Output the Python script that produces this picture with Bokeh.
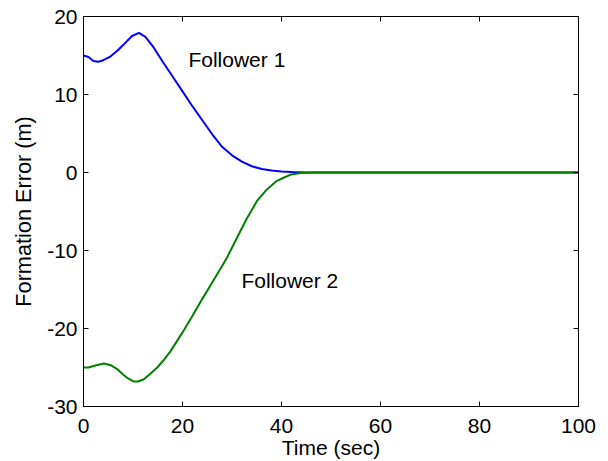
from bokeh.plotting import figure
from bokeh.models import LinearAxis, Range1d, Label, FixedTicker
from bokeh.embed import file_html
from bokeh.resources import INLINE

# Follower 1 formation error
t1 = [0, 1, 2, 3, 4, 5.5, 7, 8.1, 9.8, 11.2, 12.5, 14.2, 16, 18, 20, 22, 24, 26, 28, 30,
      32, 34, 36, 38, 40, 42, 45, 50, 100]
e1 = [15.0, 14.8, 14.3, 14.2, 14.4, 14.9, 15.7, 16.4, 17.5, 17.9, 17.4, 16.0, 14.2, 12.3, 10.4,
      8.5, 6.7, 4.9, 3.3, 2.2, 1.4, 0.8, 0.45, 0.25, 0.12, 0.05, 0.0, 0.0, 0.0]

# Follower 2 formation error
t2 = [0, 1, 2, 4.1, 5.5, 6.8, 8, 9, 10.2, 11, 12.2, 13.5, 14.9, 16, 17.6, 20, 22, 24, 26, 28,
      29, 31.7, 33, 35.1, 37, 39, 40.4, 42, 43.8, 46, 50, 100]
e2 = [-25.0, -25.0, -24.8, -24.5, -24.7, -25.2, -25.9, -26.4, -26.8, -26.8, -26.5, -25.8, -25.0,
      -24.2, -22.9, -20.5, -18.4, -16.2, -14.1, -12.0, -10.9, -7.5, -5.9, -3.6, -2.2, -1.1,
      -0.67, -0.25, -0.05, 0.0, 0.0, 0.0]

x_ticks = [0, 20, 40, 60, 80, 100]
y_ticks = [-30, -20, -10, 0, 10, 20]
y_tick_labels = ["-30", "-20", "-10", "0", "10", "20"]

FONT = "Liberation Sans"
FS = "21px"

p = figure(width=600, height=453, output_backend="svg", toolbar_location=None,
           x_range=Range1d(0, 100), y_range=Range1d(-30, 20),
           min_border_left=83, min_border_right=22, min_border_top=16, min_border_bottom=47)
p.frame_width = 495
p.frame_height = 390

p.line(t1, e1, line_color="#0000FF", line_width=2)
p.line(t2, e2, line_color="#008000", line_width=2)

p.xgrid.visible = False
p.ygrid.visible = False
p.outline_line_color = "black"
p.outline_line_width = 1

for ax, ticks in ((p.xaxis[0], x_ticks), (p.yaxis[0], y_ticks)):
    ax.ticker = FixedTicker(ticks=ticks)
    ax.major_tick_in = 5
    ax.major_tick_out = 0
    ax.minor_tick_line_color = None
    ax.axis_line_color = "black"
    ax.major_tick_line_color = "black"
    ax.major_label_text_font = FONT
    ax.major_label_text_font_size = FS
    ax.major_label_text_color = "black"
    ax.axis_label_text_font = FONT
    ax.axis_label_text_font_size = FS
    ax.axis_label_text_font_style = "normal"
    ax.axis_label_text_color = "black"

p.yaxis[0].major_label_overrides = {v: s for v, s in zip(y_ticks, y_tick_labels)}
p.xaxis[0].axis_label = "Time (sec)"
p.yaxis[0].axis_label = "Formation Error (m)"
p.yaxis[0].axis_label_text_font_size = "21.7px"
p.xaxis[0].major_label_standoff = 12
p.yaxis[0].major_label_standoff = 6
p.xaxis[0].axis_label_standoff = 0
p.yaxis[0].axis_label_standoff = 8

top = LinearAxis(ticker=FixedTicker(ticks=x_ticks), major_tick_in=5, major_tick_out=0,
                 minor_tick_line_color=None, major_label_text_font_size="0px",
                 major_label_text_color=None)
right = LinearAxis(ticker=FixedTicker(ticks=y_ticks), major_tick_in=5, major_tick_out=0,
                   minor_tick_line_color=None, major_label_text_font_size="0px",
                   major_label_text_color=None)
p.add_layout(top, "above")
p.add_layout(right, "right")

p.add_layout(Label(x=21.2, y=14.5, text="Follower 1", text_font=FONT, text_font_size=FS,
                   text_baseline="middle", text_align="left", text_color="black"))
p.add_layout(Label(x=31.9, y=-13.9, text="Follower 2", text_font=FONT, text_font_size=FS,
                   text_baseline="middle", text_align="left", text_color="black"))

open("out.html", "w").write(file_html(p, INLINE))
